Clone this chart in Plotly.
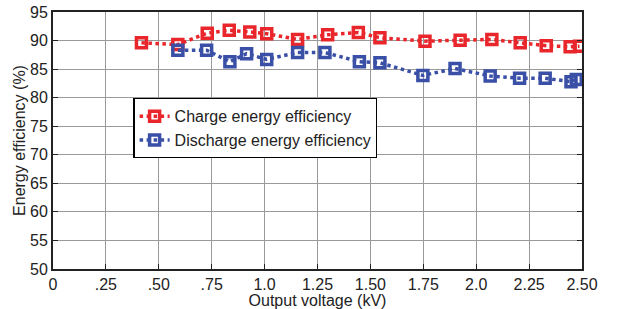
import plotly.graph_objects as go

charge_x = [0.418, 0.59, 0.729, 0.833, 0.93, 1.01, 1.156, 1.298, 1.443, 1.545, 1.758, 1.924, 2.074, 2.208, 2.331, 2.444, 2.488]
charge_y = [89.6, 89.3, 91.3, 91.8, 91.5, 91.2, 90.2, 91.0, 91.4, 90.5, 89.9, 90.05, 90.2, 89.6, 89.1, 88.9, 89.0]

discharge_x = [0.59, 0.726, 0.836, 0.915, 1.01, 1.156, 1.285, 1.448, 1.545, 1.748, 1.9, 2.066, 2.205, 2.326, 2.448, 2.473]
discharge_y = [88.3, 88.3, 86.3, 87.7, 86.7, 87.9, 87.9, 86.3, 86.1, 83.9, 85.1, 83.8, 83.4, 83.4, 82.8, 83.2]

x_tickvals = [0, 0.25, 0.5, 0.75, 1.0, 1.25, 1.5, 1.75, 2.0, 2.25, 2.5]
x_ticktext = ["0", ".25", ".50", ".75", "1.0", "1.25", "1.50", "1.75", "2.0", "2.25", "2.50"]
y_tickvals = [50, 55, 60, 65, 70, 75, 80, 85, 90, 95]

RED = "#e8262b"
BLUE = "#3a4fa6"
FONT = "Liberation Sans, Arial, sans-serif"

fig = go.Figure()
fig.add_trace(go.Scatter(
    x=charge_x, y=charge_y, mode="lines+markers", name="Charge energy efficiency",
    line=dict(color=RED, width=3.5, dash="dot"),
    marker=dict(symbol="square-open", size=10, color=RED, line=dict(width=3.5, color=RED)),
))
fig.add_trace(go.Scatter(
    x=discharge_x, y=discharge_y, mode="lines+markers", name="Discharge energy efficiency",
    line=dict(color=BLUE, width=3.5, dash="dot"),
    marker=dict(symbol="square-open", size=10, color=BLUE, line=dict(width=3.5, color=BLUE)),
))

fig.update_layout(
    width=618, height=309,
    margin=dict(l=53, r=36, t=12, b=40),
    paper_bgcolor="white", plot_bgcolor="white",
    font=dict(family=FONT, color="#222"),
    legend=dict(
        x=0.152, y=0.665, xanchor="left", yanchor="top",
        bgcolor="white", bordercolor="black", borderwidth=1.2,
        font=dict(size=16, family=FONT, color="#222"),
        tracegroupgap=0, itemwidth=30,
    ),
    xaxis=dict(
        range=[0, 2.5], tickvals=x_tickvals, ticktext=x_ticktext,
        showgrid=True, gridcolor="#9a9a9a", gridwidth=1,
        showline=True, linecolor="#222", linewidth=2, mirror=True,
        ticks="inside", ticklen=5, tickcolor="#222",
        tickfont=dict(size=16, family=FONT, color="#222"),
        ticklabeloverflow="allow",
        title=dict(text="Output voltage (kV)", font=dict(size=16, family=FONT, color="#222"), standoff=0),
        zeroline=False, automargin=False,
    ),
    yaxis=dict(
        range=[50, 95], tickvals=y_tickvals,
        showgrid=True, gridcolor="#9a9a9a", gridwidth=1,
        showline=True, linecolor="#222", linewidth=2, mirror="ticks",
        ticks="inside", ticklen=5, tickcolor="#222",
        tickfont=dict(size=16, family=FONT, color="#222"),
        ticklabeloverflow="allow",
        title=dict(text="Energy efficiency (%)", font=dict(size=16, family=FONT, color="#222"), standoff=0),
        zeroline=False, automargin=False,
    ),
)

# remove the page's default 8px body margin so the figure sits at the window's corner
fig.write_html("out.html", config={"displayModeBar": False},
               post_script="document.body.style.margin='0';")
